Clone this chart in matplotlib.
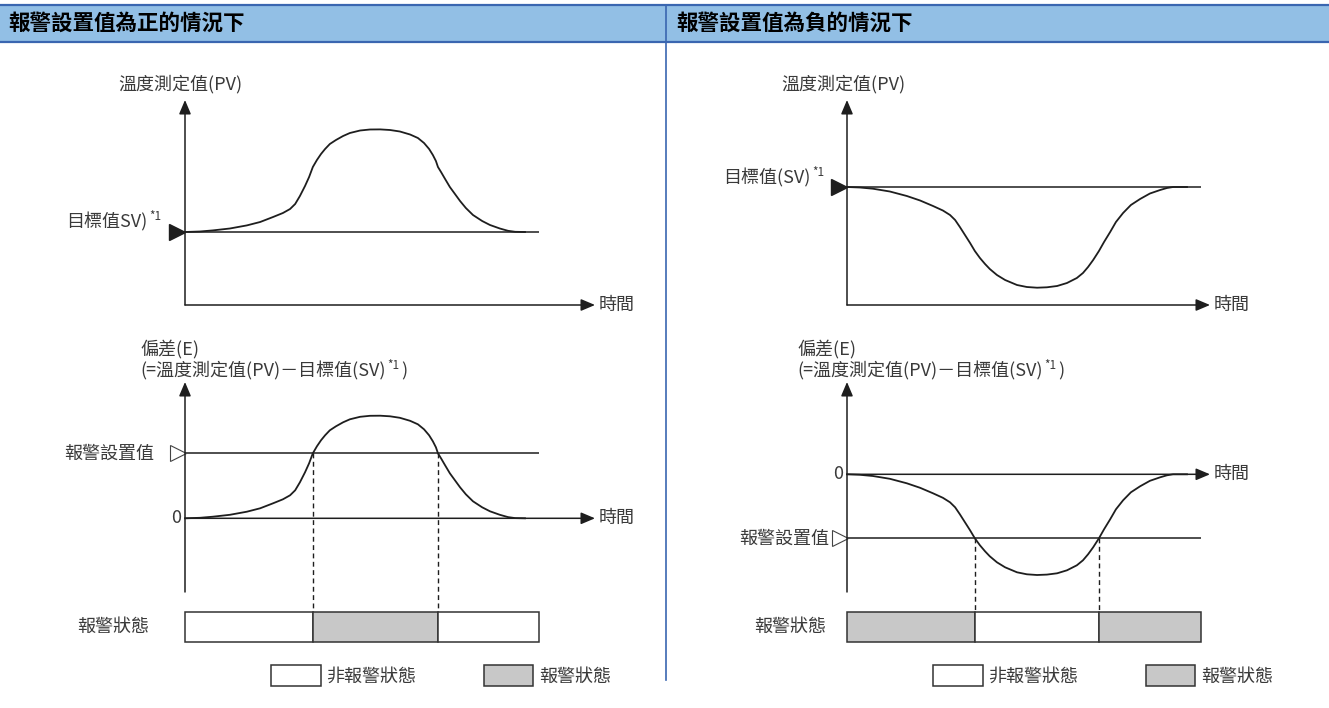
import numpy as np
import matplotlib
matplotlib.use("Agg")
import matplotlib.pyplot as plt
from matplotlib.patches import Rectangle, Patch

plt.rcParams["font.family"] = ["Noto Sans CJK TC", "DejaVu Sans"]

# ---------------- data ----------------
panel_titles = ["報警設置值為正的情況下", "報警設置值為負的情況下"]

# positive alarm setting: measured value rises above the set value and returns
time_pos = [0, 4.4, 8.2, 13.2, 18.2, 22.1, 25.9, 28.8, 30.9, 32.4,
            33.8, 35.3, 36.5, 37.6, 38.8, 40, 41.2, 42.6, 44.4, 46.5,
            48.5, 51.5, 54.4, 57.4, 60.3, 63.2, 66.2, 68.5, 70.3, 71.8,
            72.9, 73.8, 74.4, 75.3, 76.5, 77.9, 79.4, 80.9, 82.6, 84.7,
            87.4, 89.7, 92.6, 95, 97.1, 100]
pv_pos = [73, 73.5, 74.6, 76.5, 79.6, 83, 88, 92, 96, 101,
          109, 119, 128, 138, 145, 151, 156, 161, 165, 169,
          172, 174.5, 175.5, 175.6, 175, 173.5, 170.5, 167, 162, 156,
          150, 144, 138, 133, 126, 118, 111, 104, 97, 90,
          84, 80, 76.5, 74.2, 73.2, 73]
sv_pos = 73.0
alarm_pos = 65.0

# negative alarm setting: measured value dips below the set value and returns
time_neg = [0, 3.8, 7.6, 12.6, 17.6, 21.5, 25.3, 28.2, 30.3, 31.8,
            33.2, 34.7, 36.2, 37.6, 39.1, 40.6, 42, 44.1, 46.5, 50,
            52.9, 55.9, 58.8, 61.8, 64.7, 67.6, 69.4, 70.9, 72.4, 74.1,
            75.6, 77.4, 79.1, 81.2, 83.5, 86.2, 89.1, 92.1, 94.1, 95.9, 100]
pv_neg = [118, 117.5, 116.3, 113.5, 109, 104.5, 99, 94.5, 90, 85,
          78, 70, 62, 54, 47, 41, 36, 30, 25, 20,
          18, 17.3, 17.7, 19, 22, 27, 32, 38, 45, 54,
          63, 73, 83, 92, 100, 106, 111.5, 115, 117, 118, 118]
sv_neg = 118.0
alarm_neg = -64.0

t_end = 104.0
state_names = ["非報警狀態", "報警狀態"]

# ---------------- styling ----------------
W, H, DPI = 1329, 708, 100
PX_T = 3.4      # pixels per time unit
PX_V = 1.0      # pixels per value unit
INK = "#1e1e1e"
EDGE = "#333333"
LABEL = "#3a3a3a"
GRAY = "#c8c8c8"
HEAD_FILL = "#92bfe5"
HEAD_EDGE = "#3a66b0"
LW = 1.1
FS = 13

fig = plt.figure(figsize=(W / DPI, H / DPI), dpi=DPI)

# background canvas in pixel units (y pointing down) for header, divider, labels
bg = fig.add_axes([0, 0, 1, 1])
bg.set_xlim(0, W)
bg.set_ylim(H, 0)
bg.axis("off")
bg.add_patch(Rectangle((0, 5), W, 37, fc=HEAD_FILL, ec="none"))
bg.plot([0, W], [5, 5], color=HEAD_EDGE, lw=1.6)
bg.plot([0, W], [42, 42], color=HEAD_EDGE, lw=1.6)
bg.plot([666, 666], [5, 680], color=HEAD_EDGE, lw=1.2)


def ptext(x, y, s, **kw):
    kw.setdefault("fontsize", FS)
    kw.setdefault("color", LABEL)
    kw.setdefault("va", "center")
    return bg.text(x, y, s, **kw)


def sup_after(artist, s):
    return bg.annotate(s, xy=(1, 0.45), xycoords=artist, xytext=(1.5, 0),
                       textcoords="offset points", fontsize=8.5, color=LABEL,
                       va="bottom", ha="left")


def px_axes(x0, x1, y0, y1, ox, oy):
    """Axes covering pixel box [x0,x1]x[y0,y1]; time 0 at ox, value 0 at oy."""
    ax = fig.add_axes([x0 / W, 1 - y1 / H, (x1 - x0) / W, (y1 - y0) / H])
    ax.set_xlim((x0 - ox) / PX_T, (x1 - ox) / PX_T)
    ax.set_ylim((oy - y1) / PX_V, (oy - y0) / PX_V)
    ax.axis("off")
    return ax


def arrow(ax, start, end):
    ax.annotate("", xy=end, xytext=start,
                arrowprops=dict(arrowstyle="-|>,head_length=0.85,head_width=0.36",
                                mutation_scale=10, color=INK, lw=LW,
                                shrinkA=0, shrinkB=0),
                annotation_clip=False)


def crossings(t, e, level):
    d = np.asarray(e) - level
    out = []
    for i in range(len(d) - 1):
        if (d[i] < 0) != (d[i + 1] < 0):
            out.append(t[i] + (t[i + 1] - t[i]) * (0 - d[i]) / (d[i + 1] - d[i]))
    return out


panels = [
    dict(title=panel_titles[0], tx=8, x0=185, top_oy=305, bot_oy=518.3,
         x_arrow=595, time=time_pos, pv=pv_pos, sv=sv_pos, alarm=alarm_pos,
         pv_lbl_x=118, sv_lbl=("目標值SV)", 66, 222), dev_lbl_x=140,
         alarm_lbl_x=154, state_lbl_x=77, legend_x=271),
    dict(title=panel_titles[1], tx=676, x0=847, top_oy=305, bot_oy=474.3,
         x_arrow=1210, time=time_neg, pv=pv_neg, sv=sv_neg, alarm=alarm_neg,
         pv_lbl_x=781, sv_lbl=("目標值(SV)", 723, 178), dev_lbl_x=797,
         alarm_lbl_x=829, state_lbl_x=754, legend_x=933),
]

for p in panels:
    x0 = p["x0"]
    t = np.asarray(p["time"], dtype=float)
    pv = np.asarray(p["pv"], dtype=float)
    sv = p["sv"]
    alarm = p["alarm"]
    e = pv - sv
    t_arrow = (p["x_arrow"] - x0) / PX_T

    # header title
    ptext(p["tx"], 23.5, p["title"], fontsize=15.5, fontweight="bold",
          color="black")

    # ---- measured value chart ----
    oy = p["top_oy"]
    ax = px_axes(x0 - 30, p["x_arrow"] + 10, 95, 312, x0, oy)
    arrow(ax, (0, 0), (0, oy - 100))
    arrow(ax, (0, 0), (t_arrow, 0))
    ax.plot([0, t_end], [sv, sv], color=INK, lw=LW, solid_capstyle="butt")
    ax.plot(t, pv, color=INK, lw=1.3, solid_joinstyle="round")
    ax.plot(-8 / PX_T, sv, marker=">", ms=11.5, color=INK, mec=INK,
            clip_on=False)
    ptext(p["pv_lbl_x"], 84, "溫度測定值(PV)")
    s, sx, sy = p["sv_lbl"]
    sup_after(ptext(sx, sy, s), "*1")
    ptext(p["x_arrow"] + 4, oy, "時間")

    # ---- deviation chart ----
    oy = p["bot_oy"]
    ax2 = px_axes(x0 - 30, p["x_arrow"] + 10, 375, 612, x0, oy)
    arrow(ax2, (0, oy - 592), (0, oy - 382))
    arrow(ax2, (0, 0), (t_arrow, 0))
    ax2.plot([0, t_end], [alarm, alarm], color=INK, lw=LW,
             solid_capstyle="butt")
    ax2.plot(t, e, color=INK, lw=1.3, solid_joinstyle="round")
    ax2.plot(-7.5 / PX_T, alarm, marker=">", ms=11, mfc="white", mec="#444444",
             mew=0.8, clip_on=False)
    cross = crossings(t, e, alarm)
    ybot = ax2.get_ylim()[0]
    for tc in cross:
        ax2.plot([tc, tc], [alarm, ybot], color=INK, lw=1.0,
                 ls=(0, (3.5, 2.5)), clip_on=False)

    ptext(p["dev_lbl_x"], 349, "偏差(E)")
    main = ptext(p["dev_lbl_x"], 371, "(=溫度測定值(PV)－目標值(SV)")
    sup = sup_after(main, "*1")
    bg.annotate(")", xy=(1, 0), xycoords=(sup, main), xytext=(1, 0),
                textcoords="offset points", fontsize=FS, color=LABEL,
                va="bottom", ha="left")
    ptext(p["alarm_lbl_x"], oy - alarm * PX_V, "報警設置值", ha="right")
    ptext(x0 - 4, oy, "0", ha="right")
    ptext(p["x_arrow"] + 4, oy, "時間")

    # ---- alarm state bar ----
    axb = px_axes(x0 - 30, p["x_arrow"] + 10, 612, 642, x0, 642)
    axb.set_ylim(0, 1)
    bounds = [0.0] + list(cross) + [t_end]
    for a, b in zip(bounds[:-1], bounds[1:]):
        on = np.interp((a + b) / 2, t, e) >= alarm
        axb.add_patch(Rectangle((a, 0), b - a, 1, fc=GRAY if on else "white",
                                ec=EDGE, lw=LW, clip_on=False))
    ptext(p["state_lbl_x"], 627, "報警狀態")

    # ---- legend ----
    handles = [Patch(fc="white", ec=EDGE, lw=LW, label=state_names[0]),
               Patch(fc=GRAY, ec=EDGE, lw=LW, label=state_names[1])]
    fig.legend(handles=handles, loc="upper left",
               bbox_to_anchor=(p["legend_x"] / W, 1 - 665 / H), ncol=2,
               frameon=False, fontsize=FS, handlelength=2.75,
               handleheight=1.4, handletextpad=0.3, columnspacing=3.75,
               borderpad=0, borderaxespad=0, labelcolor=LABEL)

fig.savefig("out.png", dpi=DPI)
